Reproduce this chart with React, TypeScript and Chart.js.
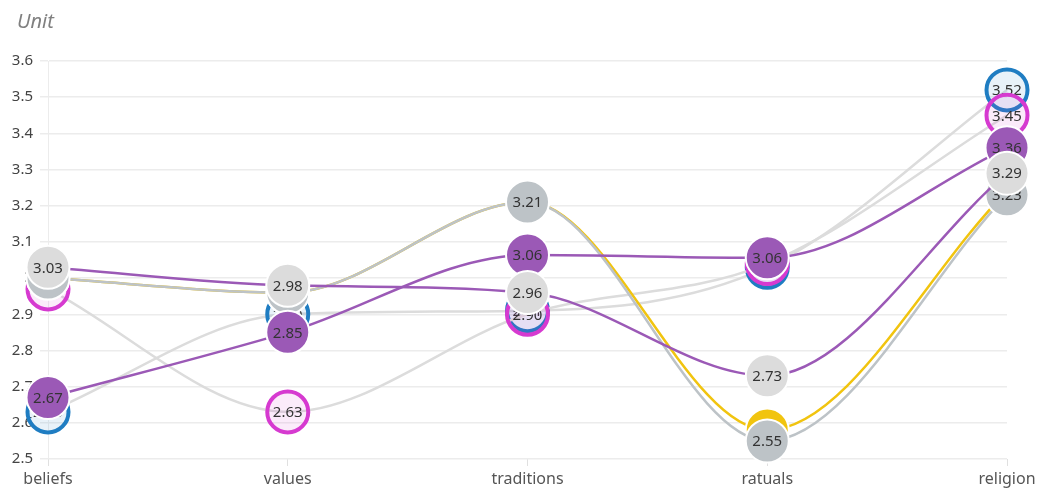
import React, { useEffect, useRef } from 'react';
import { Chart, registerables } from 'chart.js';

Chart.register(...registerables);

const categories = ['beliefs', 'values', 'traditions', 'ratuals', 'religion'];
const seriesLightGrey = [3.03, 2.98, 2.96, 2.73, 3.29];
const seriesPurple = [2.67, 2.85, 3.064, 3.056, 3.36];
const seriesGrey = [3.0, 2.96, 3.21, 2.55, 3.23];
const seriesYellow = [3.0, 2.96, 3.21, 2.58, 3.24];
const seriesMagenta = [2.97, 2.63, 2.9, 3.04, 3.45];
const seriesBlue = [2.63, 2.9, 2.91, 3.03, 3.52];
const yMin = 2.5;
const yMax = 3.6;
const yStep = 0.1;
const axisTitle = 'Unit';

const FONT = '"Noto Sans", "DejaVu Sans", sans-serif';

const valueLabels = {
  id: 'valueLabels',
  afterDatasetDraw(chart: any, args: any) {
    const meta = args.meta;
    const ds = chart.data.datasets[args.index];
    const ctx = chart.ctx;
    ctx.save();
    ctx.font = `15px ${FONT}`;
    ctx.fillStyle = '#333';
    ctx.textAlign = 'center';
    ctx.textBaseline = 'middle';
    meta.data.forEach((pt: any, i: number) => {
      const v = ds.data[i] as number;
      ctx.fillText(v.toFixed(2), pt.x, pt.y + 1);
    });
    ctx.restore();
  },
};

const unitTitle = {
  id: 'unitTitle',
  afterDraw(chart: any) {
    const ctx = chart.ctx;
    ctx.save();
    ctx.font = `italic 20px ${FONT}`;
    ctx.fillStyle = '#808080';
    ctx.textAlign = 'left';
    ctx.textBaseline = 'alphabetic';
    ctx.fillText(axisTitle, 17, 28);
    ctx.restore();
  },
};

function makeDataset(label: string, data: number[], line: string, fill: string, border: string, bw: number, radius: number) {
  return {
    label,
    data,
    borderColor: line,
    borderWidth: 2.5,
    backgroundColor: fill,
    pointBackgroundColor: fill,
    pointBorderColor: border,
    pointBorderWidth: bw,
    pointRadius: radius,
    pointHoverRadius: radius,
    cubicInterpolationMode: 'monotone' as const,
    fill: false,
    clip: false as any,
  };
}

export default function App() {
  const ref = useRef<HTMLCanvasElement | null>(null);
  useEffect(() => {
    if (!ref.current) return;
    const chart = new Chart(ref.current, {
      type: 'line',
      data: {
        labels: categories,
        datasets: [
          makeDataset('s1', seriesLightGrey, '#9b59b6', '#dcdcdc', '#ffffff', 2, 21.5),
          makeDataset('s2', seriesPurple, '#9b59b6', '#9b59b6', '#ffffff', 2, 21.5),
          makeDataset('s3', seriesGrey, '#bdc3c7', '#bdc3c7', '#ffffff', 2, 21.5),
          makeDataset('s4', seriesYellow, '#f1c40f', '#f1c40f', '#ffffff', 2, 21.5),
          makeDataset('s5', seriesMagenta, '#dcdcdc', 'rgba(214,58,208,0.1)', '#d63ad0', 4, 20.5),
          makeDataset('s6', seriesBlue, '#dcdcdc', 'rgba(31,125,194,0.1)', '#1f7dc2', 4, 20.5),
        ] as any,
      },
      options: {
        animation: false,
        responsive: true,
        maintainAspectRatio: false,
        events: [],
        layout: { padding: { top: 61, right: 41, left: 0, bottom: 0 } },
        plugins: {
          legend: { display: false },
          tooltip: { enabled: false },
          title: { display: false },
        },
        scales: {
          x: {
            grid: { drawOnChartArea: false, color: '#e0e0e0', tickLength: 7 },
            border: { display: false },
            ticks: { color: '#555', font: { size: 16, family: FONT }, padding: 4, maxRotation: 0, autoSkip: false },
            afterFit: (s: any) => { s.height = 37; },
          },
          y: {
            min: yMin,
            max: yMax,
            ticks: {
              stepSize: yStep,
              color: '#444',
              font: { size: 15, family: FONT },
              padding: 7,
              callback: (v: any) => String(Math.round(Number(v) * 10) / 10),
            },
            grid: { color: '#ececec', lineWidth: 1.5, tickLength: 8 },
            border: { display: true, color: '#ececec' },
            afterFit: (s: any) => { s.width = 48; },
          },
        },
      },
      plugins: [valueLabels, unitTitle],
    });
    return () => chart.destroy();
  }, []);
  return (
    <div style={{ position: 'fixed', left: 0, top: 0, width: 1048, height: 496, background: '#fff' }}>
      <canvas ref={ref} />
    </div>
  );
}
